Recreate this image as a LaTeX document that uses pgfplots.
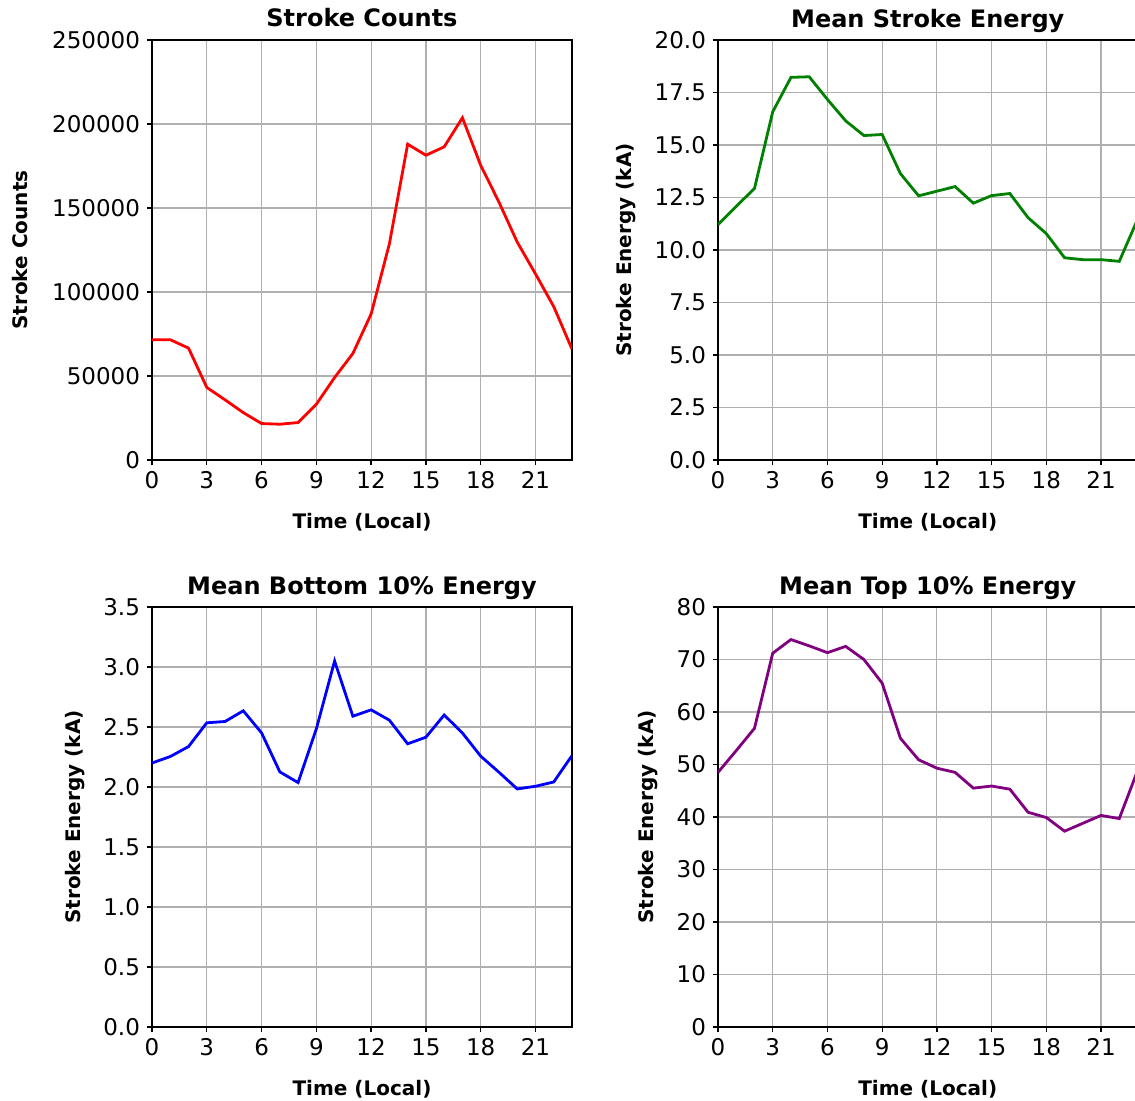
\documentclass[border=0pt]{standalone}
\usepackage{fontspec}
\setmainfont{DejaVu Sans}
\usepackage{pgfplots}
\pgfplotsset{compat=1.18}

\definecolor{mplgreen}{RGB}{0,128,0}
\definecolor{mplpurple}{RGB}{128,0,128}
\definecolor{gridgray}{RGB}{176,176,176}

\pgfplotsset{
  panel/.style={
    scale only axis, width=210pt, height=210pt,
    anchor=south west,
    xmin=0, xmax=23, xtick={0,3,6,9,12,15,18,21},
    grid=major,
    major grid style={color=gridgray, line width=0.6pt},
    axis line style={line width=0.65pt},
    tick style={black, line width=0.65pt},
    tick align=outside, major tick length=2.5pt,
    tick pos=left,
    /pgf/number format/assume math mode=true,
    ticklabel style={font=\fontsize{11.5}{13}\selectfont},
    xticklabel style={anchor=north, text height=8.4pt, text depth=0pt},
    title style={font=\bfseries\fontsize{12}{14}\selectfont,
      at={(0.5,1)}, anchor=base, yshift=0.5pt},
    label style={font=\bfseries\fontsize{10}{12}\selectfont},
    xlabel style={at={(0.5,0)}, anchor=base, yshift=-34pt},
    ylabel shift=2.5pt,
    xlabel={Time (Local)},
  },
  line/.style={line width=1.4pt, no marks},
}

\begin{document}
\begin{tikzpicture}
% Stroke Counts
\begin{axis}[panel, at={(76pt,-230pt)},
    ymin=0, ymax=250000, ytick={0,50000,100000,150000,200000,250000},
    yticklabel style={/pgf/number format/fixed, /pgf/number format/1000 sep={}},
    scaled y ticks=false, ylabel shift=5.5pt,
    title={Stroke Counts}, ylabel={Stroke Counts}]
  \addplot[line, red] coordinates {
    (0,71600) (1,71600) (2,66600) (3,43200) (4,35800) (5,28200)
    (6,21700) (7,21300) (8,22300) (9,33200) (10,49100) (11,63400)
    (12,86900) (13,128700) (14,188000) (15,181400) (16,186400) (17,203700)
    (18,175400) (19,153500) (20,129700) (21,110800) (22,91300) (23,66000)
  };
\end{axis}
% Mean Stroke Energy
\begin{axis}[panel, at={(359pt,-230pt)}, width=209.75pt,
    ymin=0, ymax=20, ytick={0,2.5,5,7.5,10,12.5,15,17.5,20},
    yticklabel style={/pgf/number format/fixed, /pgf/number format/fixed zerofill,
      /pgf/number format/precision=1},
    title={Mean Stroke Energy}, ylabel={Stroke Energy (kA)}]
  \addplot[line, mplgreen] coordinates {
    (0,11.21) (1,12.08) (2,12.93) (3,16.58) (4,18.22) (5,18.25)
    (6,17.17) (7,16.15) (8,15.45) (9,15.50) (10,13.64) (11,12.58)
    (12,12.80) (13,13.02) (14,12.23) (15,12.59) (16,12.69) (17,11.54)
    (18,10.78) (19,9.63) (20,9.54) (21,9.54) (22,9.46) (23,11.45)
  };
\end{axis}
% Mean Bottom 10% Energy
\begin{axis}[panel, at={(76pt,-513.5pt)},
    ymin=0, ymax=3.5, ytick={0,0.5,1,1.5,2,2.5,3,3.5},
    yticklabel style={/pgf/number format/fixed, /pgf/number format/fixed zerofill,
      /pgf/number format/precision=1},
    title={Mean Bottom 10\% Energy}, ylabel={Stroke Energy (kA)}]
  \addplot[line, blue] coordinates {
    (0,2.20) (1,2.254) (2,2.337) (3,2.535) (4,2.546) (5,2.635)
    (6,2.451) (7,2.126) (8,2.037) (9,2.485) (10,3.05) (11,2.59)
    (12,2.643) (13,2.557) (14,2.36) (15,2.415) (16,2.60) (17,2.45)
    (18,2.257) (19,2.123) (20,1.984) (21,2.006) (22,2.042) (23,2.262)
  };
\end{axis}
% Mean Top 10% Energy
\begin{axis}[panel, at={(359pt,-513.5pt)}, width=209.75pt,
    ymin=0, ymax=80, ytick={0,10,20,30,40,50,60,70,80},
    title={Mean Top 10\% Energy}, ylabel={Stroke Energy (kA)}]
  \addplot[line, mplpurple] coordinates {
    (0,48.5) (1,52.65) (2,56.9) (3,71.2) (4,73.8) (5,72.6)
    (6,71.3) (7,72.5) (8,70.0) (9,65.5) (10,55.0) (11,50.9)
    (12,49.3) (13,48.5) (14,45.5) (15,45.9) (16,45.3) (17,40.9)
    (18,39.9) (19,37.3) (20,38.8) (21,40.3) (22,39.7) (23,48.8)
  };
\end{axis}
\pgfresetboundingbox
\useasboundingbox (0,0) rectangle (567.5pt,-550.5pt);
\end{tikzpicture}
\end{document}
